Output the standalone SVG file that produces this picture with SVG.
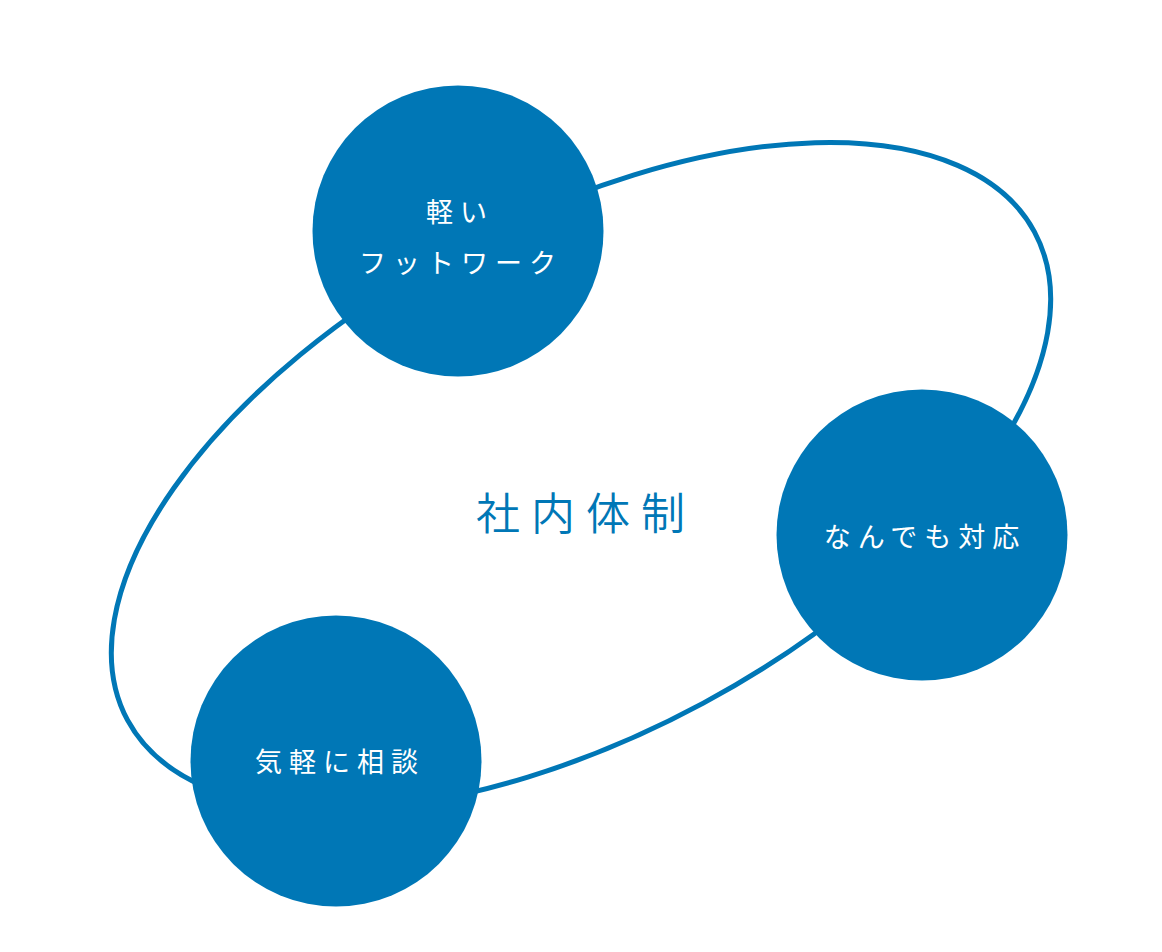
<svg xmlns="http://www.w3.org/2000/svg" width="1162" height="952" viewBox="0 0 1162 952">
<style>
.ring{fill:none;stroke:#0077b6;stroke-width:5}
.node circle{fill:#0077b6}
.lbl{font-family:"Noto Sans CJK JP","Noto Sans CJK SC",sans-serif;font-size:27px;font-weight:400;fill:#ffffff;letter-spacing:7px;text-anchor:middle}
.title{font-family:"Noto Sans CJK JP","Noto Sans CJK SC",sans-serif;font-size:44px;font-weight:350;fill:#0077b6;letter-spacing:11px;text-anchor:middle}
</style>
<rect width="1162" height="952" fill="#ffffff"/>
<g id="connectors">
<ellipse class="ring" cx="581" cy="476" rx="515" ry="258" transform="rotate(-28.3 581 476)"/>
</g>
<g id="center-label">
<text class="title" x="586" y="530">社内体制</text>
</g>
<g id="node-footwork" class="node">
<circle cx="458" cy="231" r="145.5"/>
<text class="lbl" x="460" y="222">軽い</text>
<text class="lbl" x="461" y="273">フットワーク</text>
</g>
<g id="node-nandemo" class="node">
<circle cx="922" cy="535" r="145.5"/>
<text class="lbl" x="925" y="547">なんでも対応</text>
</g>
<g id="node-kigaru" class="node">
<circle cx="336" cy="761" r="145.5"/>
<text class="lbl" x="340" y="772">気軽に相談</text>
</g>
</svg>
